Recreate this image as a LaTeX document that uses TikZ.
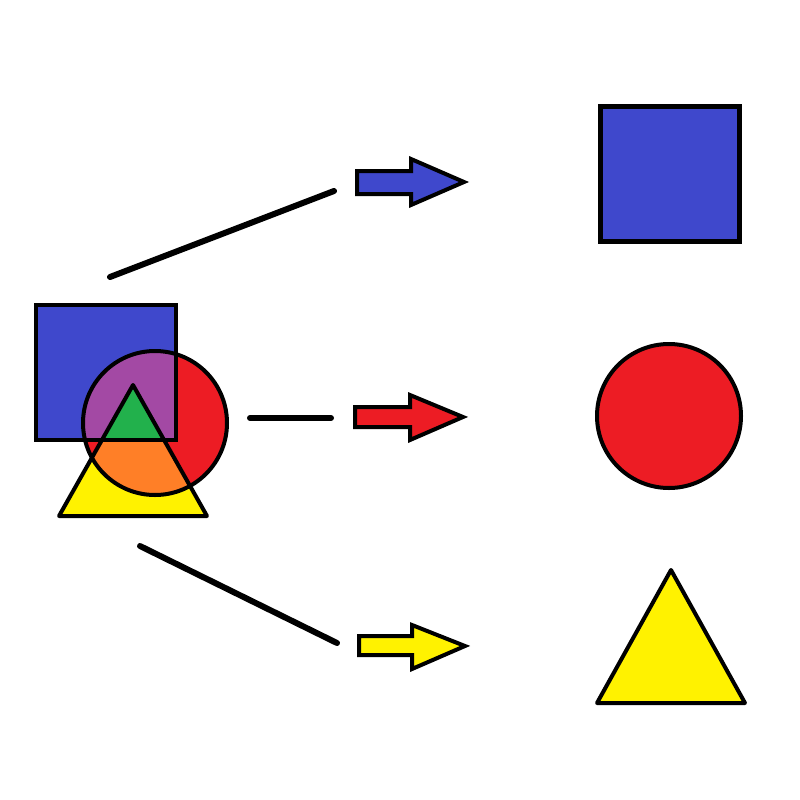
\documentclass[tikz,border=0pt]{standalone}
\definecolor{pblue}{HTML}{3F48CC}
\definecolor{pred}{HTML}{ED1C24}
\definecolor{pyellow}{HTML}{FFF200}
\definecolor{ppurple}{HTML}{A349A4}
\definecolor{porange}{HTML}{FF7F27}
\definecolor{pgreen}{HTML}{22B14C}
\begin{document}
\begin{tikzpicture}[x=1pt,y=-1pt,
  outl/.style={draw=black,line width=4pt,line join=miter},
  conn/.style={draw=black,line width=6pt,line cap=round}]
\useasboundingbox (0,0) rectangle (800,800);
\fill[white] (0,0) rectangle (800,800);
% left combined group
\def\lsq{(36,305) rectangle (176,440)}
\def\lci{(155,423) circle (72pt)}
\def\ltr{(59,516) -- (207,516) -- (133,385) -- cycle}
\fill[pblue] \lsq;
\fill[pred] \lci;
\fill[pyellow] \ltr;
\begin{scope}
  \clip \lci;
  \fill[ppurple] \lsq;
  \fill[porange] \ltr;
  \clip \lsq;
  \fill[pgreen] \ltr;
\end{scope}
\draw[outl] \lsq;
\draw[outl] \lci;
\draw[outl,line join=round] \ltr;
% connector lines
\coordinate (a1) at (110,277); \coordinate (b1) at (334,191);
\coordinate (a2) at (250,418); \coordinate (b2) at (331,418);
\coordinate (a3) at (140,546); \coordinate (b3) at (337,643);
\draw[conn] (a1) -- (b1);
\draw[conn] (a2) -- (b2);
\draw[conn] (a3) -- (b3);
% arrows
\draw[outl,fill=pblue] (357,171) -- (411,171) -- (411,159) -- (464,182) -- (411,205) -- (411,194) -- (357,194) -- cycle;
\draw[outl,fill=pred] (355,407) -- (410,407) -- (410,395) -- (463,417) -- (410,440) -- (410,427) -- (355,427) -- cycle;
\draw[outl,fill=pyellow] (359,636) -- (412,636) -- (412,625) -- (465,646) -- (412,669) -- (412,655) -- (359,655) -- cycle;
% right shapes
\draw[outl,line width=5pt,fill=pblue] (600.5,106.5) rectangle (739.5,241.5);
\draw[outl,fill=pred] (669,416) circle (72pt);
\draw[outl,line join=round,fill=pyellow] (597,703) -- (745,703) -- (671,570) -- cycle;
\end{tikzpicture}
\end{document}
